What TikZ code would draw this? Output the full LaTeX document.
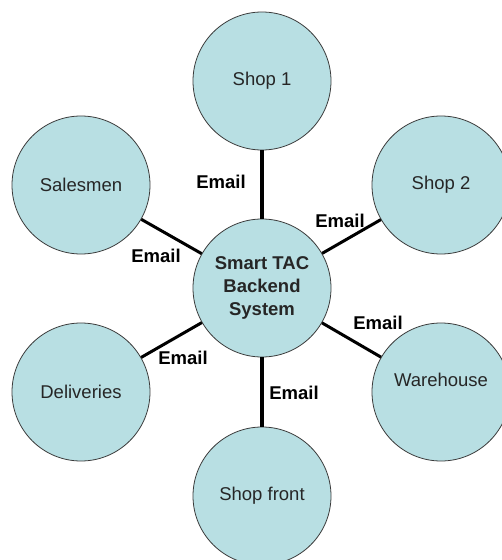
\documentclass[tikz,border=0pt]{standalone}
\usepackage{fontspec}
\setmainfont{Liberation Sans}
\definecolor{bubble}{HTML}{B8DFE3}
\definecolor{rim}{HTML}{3A3A3A}
\begin{document}
\begin{tikzpicture}[x=1bp,y=-1bp,
  circ/.style={circle,draw=rim,line width=0.8bp,fill=bubble,minimum size=138bp,inner sep=0pt,
    font=\fontsize{18.5bp}{23bp}\selectfont,text=black!85},
  hub/.style={circ,font=\fontsize{18.5bp}{23bp}\selectfont\bfseries,align=center},
  lbl/.style={font=\fontsize{18.5bp}{23bp}\selectfont\bfseries,inner sep=0pt},
  thick link/.style={line width=4bp,black},
  thin link/.style={line width=3bp,black}]
\useasboundingbox (0,0) rectangle (502,560);
\node[hub] (c) at (262,288) {Smart TAC\\Backend\\System};
\node[circ] (s1) at (262,81) {Shop 1};
\node[circ] (sal) at (81,185) {Salesmen};
\node[circ] (s2) at (441,185) {Shop 2};
\node[circ] (del) at (81,392) {Deliveries};
\node[circ,label={[yshift=12bp,font=\fontsize{18.5bp}{23bp}\selectfont,text=black!85]center:Warehouse}] (wh) at (441,392) {};
\node[circ] (sf) at (262,496) {Shop front};
\draw[thick link] (c) -- (s1);
\draw[thick link] (c) -- (sf);
\draw[thin link] (c) -- (sal);
\draw[thin link] (c) -- (s2);
\draw[thin link] (c) -- (del);
\draw[thin link] (c) -- (wh);
\node[lbl] (e1) at (221,182) {Email};
\node[lbl] (e2) at (156,256) {Email};
\node[lbl] (e3) at (340,221) {Email};
\node[lbl] (e4) at (378,323) {Email};
\node[lbl] (e5) at (183,358) {Email};
\node[lbl] (e6) at (294,393) {Email};
\end{tikzpicture}
\end{document}
